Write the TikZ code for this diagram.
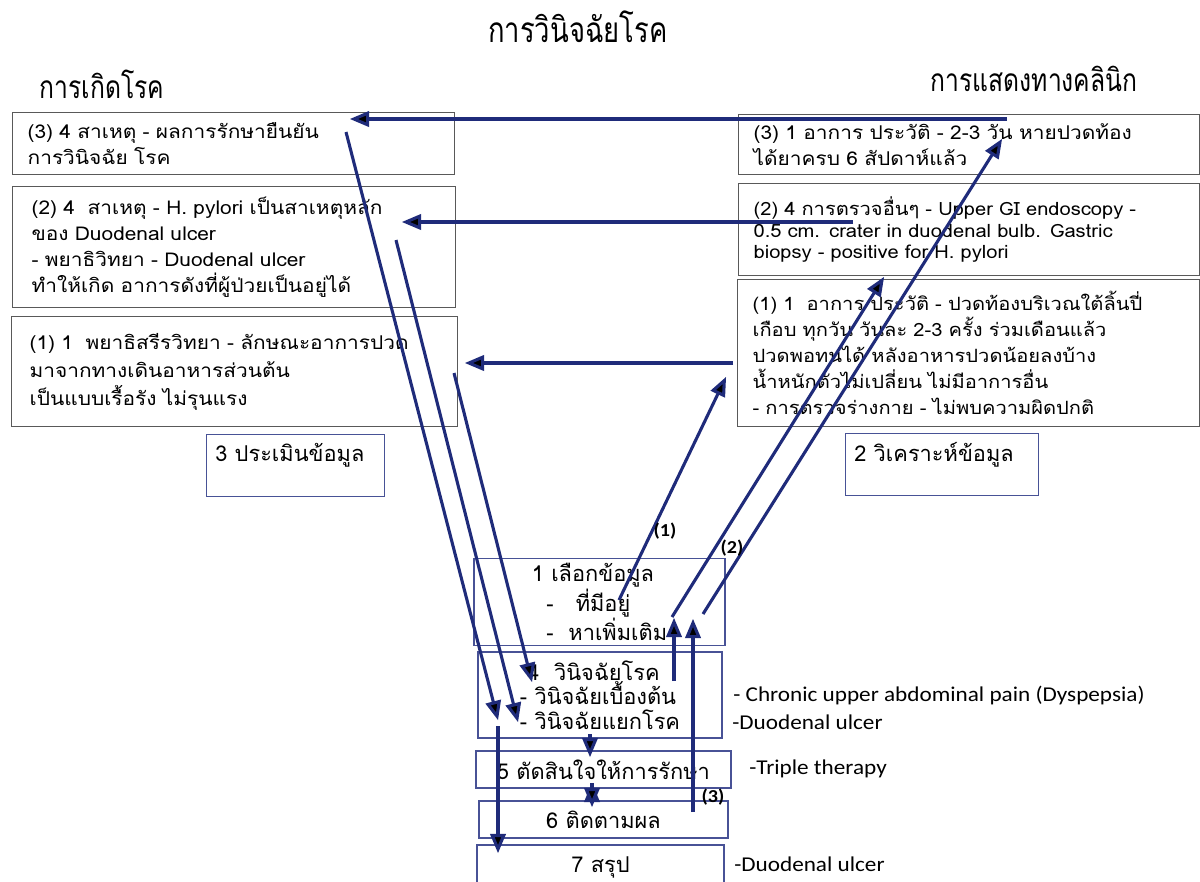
\documentclass[tikz,border=0pt]{standalone}
\usepackage{fontspec}
\setmainfont{Loma}[Script=Thai]
\newfontfamily\headfont{Loma}[Script=Thai,FakeStretch=0.78]
\newfontfamily\boxfont{Loma}[Script=Thai,FakeStretch=1.1]
\newfontfamily\notefont{Carlito}[FakeStretch=1.1]
\usetikzlibrary{arrows,shapes,backgrounds}
\newdimen\px \px=0.025cm
\definecolor{navy}{RGB}{31,43,122}
\definecolor{slate}{RGB}{72,82,150}

\begin{document}
\begin{tikzpicture}[x=0.025cm,y=-0.025cm,>=triangle 45,
    link/.style={->,draw=navy,line width=2.2pt},
    side box/.style={rectangle,draw=black!65,line width=0.9pt,align=left,anchor=north west,
                     inner xsep=15\px,font=\boxfont\fontsize{13.5}{18.5}\selectfont},
    stage box/.style={rectangle,draw=slate,line width=0.8pt,align=left,font=\fontsize{15.5}{17.5}\selectfont},
    label box/.style={anchor=north west,inner sep=9\px,font=\fontsize{15.5}{17}\selectfont},
    note/.style={anchor=west,inner sep=0pt,font=\notefont\fontsize{15}{17}\selectfont},
    tag/.style={inner sep=0pt,font=\notefont\bfseries\fontsize{13}{14}\selectfont}]

  \useasboundingbox (0,0) rectangle (1200,881);

  % headings
  \node[font=\headfont\fontsize{25}{28}\selectfont] (title) at (578,27) {การวินิจฉัยโรค};
  \node[font=\headfont\fontsize{22.5}{26}\selectfont] (cause) at (102,84) {การเกิดโรค};
  \node[font=\headfont\fontsize{22.5}{26}\selectfont] (clinic) at (1034,79) {การแสดงทางคลินิก};

  % left column
  \node[side box,minimum width=442\px,minimum height=62\px,text width=412\px] (l3) at (12,112)
    {(3) 4 สาเหตุ - ผลการรักษายืนยัน\\การวินิจฉัย โรค};
  \node[side box,minimum width=442\px,minimum height=121\px,text width=405\px,inner xsep=19\px] (l2) at (12,186)
    {(2) 4 \ สาเหตุ - H. pylori เป็นสาเหตุหลัก\\ของ Duodenal ulcer\\- พยาธิวิทยา - Duodenal ulcer\\ทำให้เกิด อาการดังที่ผู้ป่วยเป็นอยู่ได้};
  \node[side box,minimum width=446\px,minimum height=110\px,text width=410\px,inner xsep=18\px,
        font=\boxfont\fontsize{13.5}{20}\selectfont] (l1) at (11,316)
    {(1) 1 \ พยาธิสรีรวิทยา - ลักษณะอาการปวด\\มาจากทางเดินอาหารส่วนต้น\\เป็นแบบเรื้อรัง ไม่รุนแรง};
  \node[stage box,anchor=north west,minimum width=178\px,minimum height=62\px,
        label={[label box]north west:3 ประเมินข้อมูล}] (assess) at (206,434) {};

  % right column
  \node[side box,minimum width=459\px,minimum height=60\px,text width=431\px] (r3) at (738,114)
    {(3) 1 อาการ ประวัติ - 2-3 วัน หายปวดท้อง\\ได้ยาครบ 6 สัปดาห์แล้ว};
  \node[side box,minimum width=461\px,minimum height=92\px,text width=431\px,
        font=\boxfont\fontsize{13}{15.5}\selectfont] (r2) at (738,183)
    {(2) 4 การตรวจอื่นๆ - Upper GI endoscopy -\\0.5 cm. crater in duodenal bulb. Gastric\\biopsy - positive for H. pylori};
  \node[side box,minimum width=462\px,minimum height=147\px,text width=432\px,
        font=\boxfont\fontsize{13}{18.5}\selectfont] (r1) at (737,279)
    {(1) 1 \ อาการ ประวัติ - ปวดท้องบริเวณใต้ลิ้นปี่\\เกือบ ทุกวัน วันละ 2-3 ครั้ง ร่วมเดือนแล้ว\\ปวดพอทนได้ หลังอาหารปวดน้อยลงบ้าง\\น้ำหนักตัวไม่เปลี่ยน ไม่มีอาการอื่น\\- การตรวจร่างกาย - ไม่พบความผิดปกติ};
  \node[stage box,anchor=north west,minimum width=193\px,minimum height=62\px,
        label={[label box]north west:2 วิเคราะห์ข้อมูล}] (analyse) at (845,433) {};

  % centre steps
  \node[stage box,minimum width=251\px,minimum height=86\px] (select) at (599.5,602)
    {1 เลือกข้อมูล\\\ \ -\ \ \ ที่มีอยู่\\\ \ -\ \ หาเพิ่มเติม};
  \node[stage box,minimum width=244\px,minimum height=86\px] (diag) at (600,695)
    {\ 4\ \ วินิจฉัยโรค\\- วินิจฉัยเบื้องต้น\\- วินิจฉัยแยกโรค};
  \node[stage box,minimum width=255\px,minimum height=37\px] (treat) at (603.5,769.5) {5 ตัดสินใจให้การรักษา};
  \node[stage box,minimum width=249\px,minimum height=37\px] (follow) at (603.5,819.5) {6 ติดตามผล};
  \node[stage box,minimum width=247\px,minimum height=45\px] (sum) at (600.5,867.5) {7 สรุป};

  % notes beside the steps
  \node[note] (n1) at (733,695) {- Chronic upper abdominal pain (Dyspepsia)};
  \node[note] (n2) at (732,722) {-Duodenal ulcer};
  \node[note] (n3) at (749,769) {-Triple therapy};
  \node[note] (n4) at (734,864) {-Duodenal ulcer};

  % arrow ends
  \coordinate (r3w) at (1007,119);  \coordinate (l3e) at (350,119);
  \coordinate (r2w) at (853,222);   \coordinate (l2e) at (402,222);
  \coordinate (r1w) at (733,363);   \coordinate (l1e) at (465,363);
  \coordinate (l3s) at (346,132);   \coordinate (diag a) at (498,720);
  \coordinate (l2s) at (396,240);   \coordinate (diag b) at (518,722);
  \coordinate (l1s) at (454,373);   \coordinate (diag c) at (532,682);
  \coordinate (diag d) at (498,726); \coordinate (sum a) at (498,853);
  \coordinate (sel a) at (619,600); \coordinate (r1s) at (726,377);
  \coordinate (sel b) at (672,617); \coordinate (r2s) at (884,277);
  \coordinate (sel c) at (703,614); \coordinate (r3s) at (1002,139);
  \coordinate (diag e) at (674,681); \coordinate (sel d) at (674,618);
  \coordinate (fol a) at (693,812); \coordinate (sel e) at (693,619);
  \coordinate (diag f) at (590,734); \coordinate (treat a) at (590,757);
  \coordinate (treat b) at (592,783); \coordinate (fol b) at (592,807);

  \path[link]
    (r3w) edge (l3e)
    (r2w) edge (l2e)
    (r1w) edge (l1e)
    (l3s) edge (diag a)
    (l2s) edge (diag b)
    (l1s) edge (diag c)
    (diag d) edge (sum a)
    (sel a) edge (r1s)
    (sel b) edge (r2s)
    (sel c) edge (r3s)
    (diag e) edge (sel d)
    (fol a) edge (sel e)
    (diag f) edge (treat a)
    (treat b) edge (fol b);

  \node[tag] (t1) at (665,531) {(1)};
  \node[tag] (t2) at (732,548) {(2)};
  \node[tag] (t3) at (713,797) {(3)};
\end{tikzpicture}
\end{document}
